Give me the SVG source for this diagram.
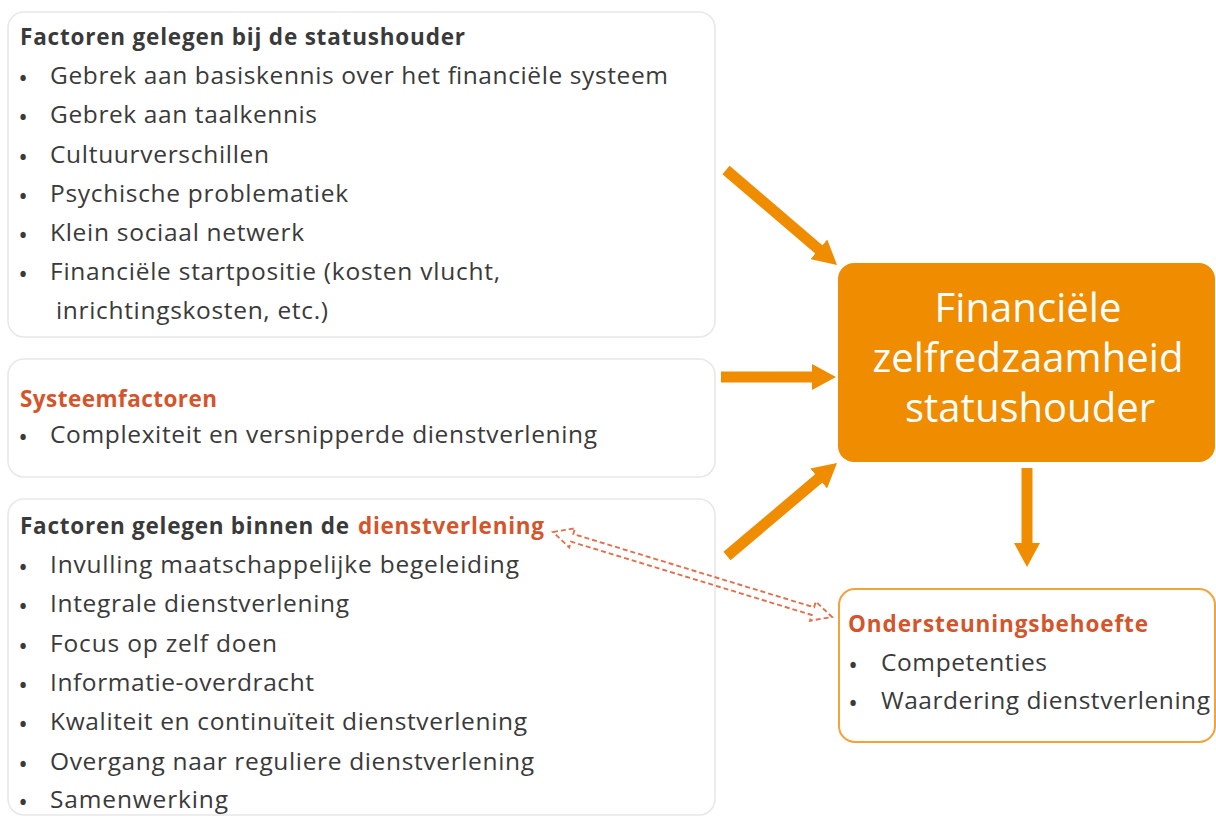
<svg xmlns="http://www.w3.org/2000/svg" width="1216" height="820" viewBox="0 0 1216 820">
<defs>
<style>
.box{fill:#ffffff;stroke:#e8e8e8;stroke-width:1.6}
.t{font-family:"Open Sans","Noto Sans",sans-serif;font-size:24.5px;fill:#3a3a3a}
.h{font-family:"Open Sans","Noto Sans",sans-serif;font-size:22.5px;font-weight:bold;fill:#3a3a3a}
.hr{fill:#d4552b}
.b{font-family:"Open Sans","Noto Sans",sans-serif;font-size:19px;font-weight:bold;fill:#3a3a3a;text-anchor:middle}
.main{font-family:"Open Sans","Noto Sans",sans-serif;font-size:40px;fill:#ffffff;text-anchor:middle}
.arr{stroke:#ef8c00;stroke-width:11;fill:none}
</style>
<marker id="ah" markerUnits="userSpaceOnUse" markerWidth="24" markerHeight="26" viewBox="0 0 24 26" refX="5" refY="13" orient="auto">
<path d="M0,0 L24,13 L0,26 z" fill="#ef8c00"/>
</marker>
</defs>
<rect width="1216" height="820" fill="#ffffff"/>

<g id="node-statushouder">
<rect class="box" x="8" y="12" width="707" height="325" rx="16"/>
<text class="h" x="20" y="45" textLength="445" lengthAdjust="spacing">Factoren gelegen bij de statushouder</text>
<text class="b" x="23" y="85">•</text>
<text class="t" x="50" y="84" textLength="618" lengthAdjust="spacing">Gebrek aan basiskennis over het financiële systeem</text>
<text class="b" x="23" y="124">•</text>
<text class="t" x="50" y="123" textLength="267" lengthAdjust="spacing">Gebrek aan taalkennis</text>
<text class="b" x="23" y="164">•</text>
<text class="t" x="50" y="163" textLength="219" lengthAdjust="spacing">Cultuurverschillen</text>
<text class="b" x="23" y="203">•</text>
<text class="t" x="50" y="202" textLength="298" lengthAdjust="spacing">Psychische problematiek</text>
<text class="b" x="23" y="242">•</text>
<text class="t" x="50" y="241" textLength="254" lengthAdjust="spacing">Klein sociaal netwerk</text>
<text class="b" x="23" y="281">•</text>
<text class="t" x="50" y="280" textLength="450" lengthAdjust="spacing">Financiële startpositie (kosten vlucht,</text>
<text class="t" x="56" y="319" textLength="272" lengthAdjust="spacing">inrichtingskosten, etc.)</text>
</g>

<g id="node-systeem">
<rect class="box" x="8" y="359" width="707" height="118" rx="16"/>
<text class="h hr" x="20" y="407" textLength="197" lengthAdjust="spacing">Systeemfactoren</text>
<text class="b" x="23" y="444">•</text>
<text class="t" x="50" y="443" textLength="547" lengthAdjust="spacing">Complexiteit en versnipperde dienstverlening</text>
</g>

<g id="node-dienstverlening">
<rect class="box" x="8" y="499" width="707" height="316" rx="16"/>
<text class="h" x="20" y="534" textLength="329" lengthAdjust="spacing">Factoren gelegen binnen de</text>
<text class="h hr" x="358" y="534" textLength="186" lengthAdjust="spacing">dienstverlening</text>
<text class="b" x="23" y="574">•</text>
<text class="t" x="50" y="573" textLength="469" lengthAdjust="spacing">Invulling maatschappelijke begeleiding</text>
<text class="b" x="23" y="613">•</text>
<text class="t" x="50" y="612" textLength="299" lengthAdjust="spacing">Integrale dienstverlening</text>
<text class="b" x="23" y="653">•</text>
<text class="t" x="50" y="652" textLength="227" lengthAdjust="spacing">Focus op zelf doen</text>
<text class="b" x="23" y="692">•</text>
<text class="t" x="50" y="691" textLength="264" lengthAdjust="spacing">Informatie-overdracht</text>
<text class="b" x="23" y="731">•</text>
<text class="t" x="50" y="730" textLength="477" lengthAdjust="spacing">Kwaliteit en continuïteit dienstverlening</text>
<text class="b" x="23" y="771">•</text>
<text class="t" x="50" y="770" textLength="484" lengthAdjust="spacing">Overgang naar reguliere dienstverlening</text>
<text class="b" x="23" y="809">•</text>
<text class="t" x="50" y="808" textLength="178" lengthAdjust="spacing">Samenwerking</text>
</g>

<g id="node-zelfredzaamheid">
<rect x="838" y="263" width="377" height="199" rx="16" fill="#ef8c00"/>
<text class="main" x="1028" y="322" textLength="187" lengthAdjust="spacing">Financiële</text>
<text class="main" x="1028" y="372" textLength="311" lengthAdjust="spacing">zelfredzaamheid</text>
<text class="main" x="1030" y="422" textLength="250" lengthAdjust="spacing">statushouder</text>
</g>

<g id="node-ondersteuning">
<rect x="839" y="589" width="376" height="153" rx="16" fill="#ffffff" stroke="#f2a33a" stroke-width="2"/>
<text class="h hr" x="848" y="632" textLength="300" lengthAdjust="spacing">Ondersteuningsbehoefte</text>
<text class="b" x="853" y="672">•</text>
<text class="t" x="881" y="671" textLength="166" lengthAdjust="spacing">Competenties</text>
<text class="b" x="853" y="710">•</text>
<text class="t" x="881" y="709" textLength="329" lengthAdjust="spacing">Waardering dienstverlening</text>
</g>

<g id="connectors">
<line class="arr" x1="726" y1="170" x2="822.6" y2="252.6" marker-end="url(#ah)"/>
<line class="arr" x1="721" y1="377" x2="817" y2="377" marker-end="url(#ah)"/>
<line class="arr" x1="727" y1="556" x2="822.5" y2="475.3" marker-end="url(#ah)"/>
<line class="arr" x1="1027" y1="468" x2="1027" y2="548" marker-end="url(#ah)"/>
<polygon transform="translate(553,532) rotate(16.94)" points="0,0 20,-10 20,-4 271.7,-4 271.7,-10 291.7,0 271.7,10 271.7,4 20,4 20,10" fill="none" stroke="#e0704c" stroke-width="1.9" stroke-dasharray="5 3"/>
</g>
</svg>
